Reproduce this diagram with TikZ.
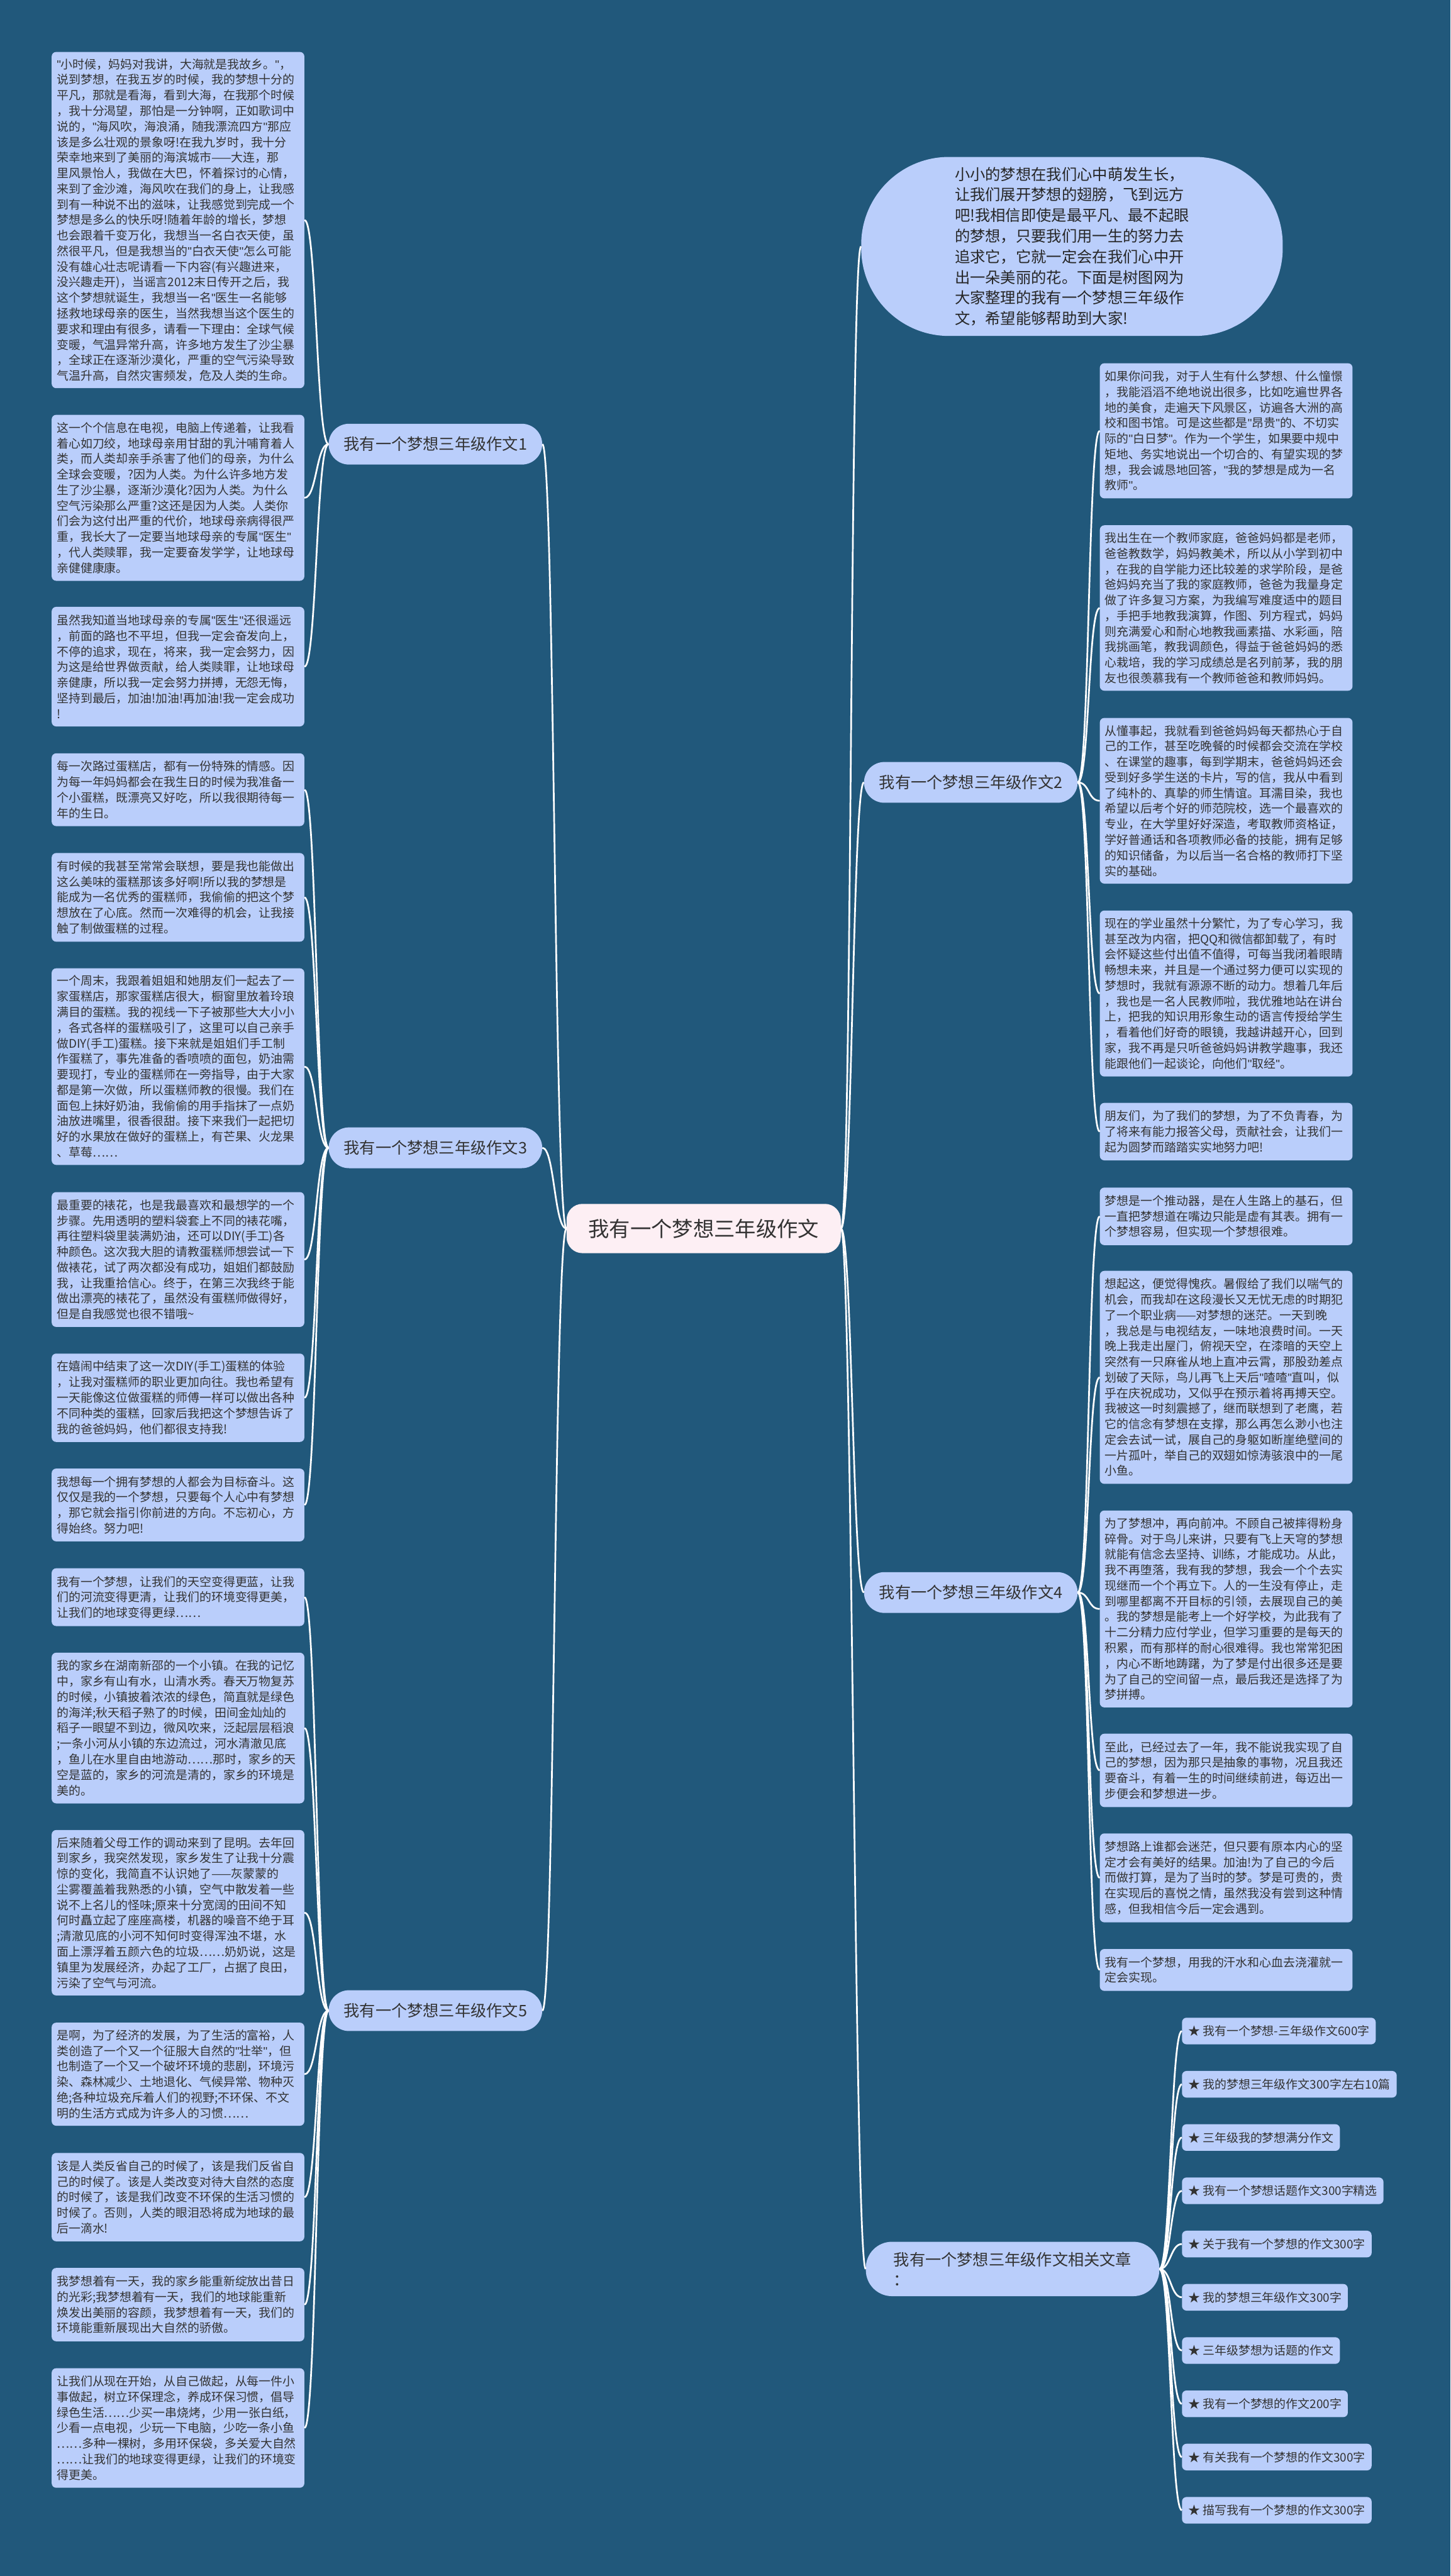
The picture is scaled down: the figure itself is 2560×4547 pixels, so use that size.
\documentclass[tikz,border=0pt]{standalone}
\usepackage{fontspec}
\setmainfont{Noto Sans CJK SC}
\newfontfamily\latf{Liberation Sans}
\newcommand\dq{{\latf\symbol{34}}}
\usetikzlibrary{calc}
\definecolor{bg}{HTML}{21587B}
\definecolor{boxc}{HTML}{BACEFB}
\definecolor{cenc}{HTML}{FDEFF4}
\definecolor{txt}{HTML}{333333}
\begin{document}
\begin{tikzpicture}[x=1pt,y=-1pt,
  leaf/.style={fill=boxc, rounded corners=8pt, text=txt, font=\fontsize{21}{27.5}\selectfont, align=left, text width=428pt, inner xsep=9pt, inner ysep=0pt, anchor=north west},
  branch/.style={fill=boxc, rounded corners=36pt, text=txt, font=\fontsize{28}{32}\selectfont, minimum width=377pt, minimum height=72pt, inner sep=0pt},
  item/.style={fill=boxc, rounded corners=8pt, text=txt, font=\fontsize{21}{25}\selectfont, anchor=west, minimum height=47pt, inner xsep=11pt, inner ysep=0pt},
  conn/.style={draw=white, line width=3pt}
]
\fill[bg] (0,0) rectangle (2560,4547);
\useasboundingbox (0,0) rectangle (2560,4547);

% ---------- centre and branches ----------
\node[fill=cenc, rounded corners=28pt, text=txt, font=\fontsize{37}{40}\selectfont, minimum width=484pt, minimum height=87pt, inner sep=0pt] (cen) at (1242,2168.5) {我有一个梦想三年级作文};

\node[branch] (b1) at (768.5,784) {我有一个梦想三年级作文1};
\node[branch] (b3) at (768.5,2026) {我有一个梦想三年级作文3};
\node[branch] (b5) at (768.5,3549) {我有一个梦想三年级作文5};
\node[branch] (b2) at (1713.5,1381) {我有一个梦想三年级作文2};
\node[branch] (b4) at (1713.5,2811) {我有一个梦想三年级作文4};
\node[fill=boxc, rounded corners=46pt, text=txt, font=\fontsize{28}{36}\selectfont, align=left, minimum width=518pt, minimum height=96pt, inner sep=0pt, anchor=west] (rel) at (1528,4005) {我有一个梦想三年级作文相关文章\\：};

\node[fill=boxc, rounded corners=155pt, text=black!85, font=\fontsize{27}{36.4}\selectfont, align=left, minimum width=744pt, minimum height=316pt, inner sep=0pt] (intro) at (1892,435) {小小的梦想在我们心中萌发生长，\\让我们展开梦想的翅膀，飞到远方\\吧!我相信即使是最平凡、最不起眼\\的梦想，只要我们用一生的努力去\\追求它，它就一定会在我们心中开\\出一朵美丽的花。下面是树图网为\\大家整理的我有一个梦想三年级作\\文，希望能够帮助到大家!};

% ---------- left leaves ----------
\node[leaf, minimum height=593.5pt] (l1a) at (91,91.5) {\dq{}小时候，妈妈对我讲，大海就是我故乡。\dq{}，\\说到梦想，在我五岁的时候，我的梦想十分的\\平凡，那就是看海，看到大海，在我那个时候\\，我十分渴望，那怕是一分钟啊，正如歌词中\\说的，\dq{}海风吹，海浪涌，随我漂流四方\dq{}那应\\该是多么壮观的景象呀!在我九岁时，我十分\\荣幸地来到了美丽的海滨城市——大连，那\\里风景怡人，我做在大巴，怀着探讨的心情，\\来到了金沙滩，海风吹在我们的身上，让我感\\到有一种说不出的滋味，让我感觉到完成一个\\梦想是多么的快乐呀!随着年龄的增长，梦想\\也会跟着千变万化，我想当一名白衣天使，虽\\然很平凡，但是我想当的\dq{}白衣天使\dq{}怎么可能\\没有雄心壮志呢请看一下内容(有兴趣进来，\\没兴趣走开)，当谣言2012末日传开之后，我\\这个梦想就诞生，我想当一名\dq{}医生一名能够\\拯救地球母亲的医生，当然我想当这个医生的\\要求和理由有很多，请看一下理由：全球气候\\变暖，气温异常升高，许多地方发生了沙尘暴\\，全球正在逐渐沙漠化，严重的空气污染导致\\气温升高，自然灾害频发，危及人类的生命。};
\node[leaf, minimum height=293pt] (l1b) at (91,732) {这一个个信息在电视，电脑上传递着，让我看\\着心如刀绞，地球母亲用甘甜的乳汁哺育着人\\类，而人类却亲手杀害了他们的母亲，为什么\\全球会变暖，?因为人类。为什么许多地方发\\生了沙尘暴，逐渐沙漠化?因为人类。为什么\\空气污染那么严重?这还是因为人类。人类你\\们会为这付出严重的代价，地球母亲病得很严\\重，我长大了一定要当地球母亲的专属\dq{}医生\dq{}\\，代人类赎罪，我一定要奋发学学，让地球母\\亲健健康康。};
\node[leaf, minimum height=211pt] (l1c) at (91,1071) {虽然我知道当地球母亲的专属\dq{}医生\dq{}还很遥远\\，前面的路也不平坦，但我一定会奋发向上，\\不停的追求，现在，将来，我一定会努力，因\\为这是给世界做贡献，给人类赎罪，让地球母\\亲健康，所以我一定会努力拼搏，无怨无悔，\\坚持到最后，加油!加油!再加油!我一定会成功\\!};

\node[leaf, minimum height=128.5pt] (l3a) at (91,1329.5) {每一次路过蛋糕店，都有一份特殊的情感。因\\为每一年妈妈都会在我生日的时候为我准备一\\个小蛋糕，既漂亮又好吃，所以我很期待每一\\年的生日。};
\node[leaf, minimum height=156.5pt] (l3b) at (91,1505.5) {有时候的我甚至常常会联想，要是我也能做出\\这么美味的蛋糕那该多好啊!所以我的梦想是\\能成为一名优秀的蛋糕师，我偷偷的把这个梦\\想放在了心底。然而一次难得的机会，让我接\\触了制做蛋糕的过程。};
\node[leaf, minimum height=347pt] (l3c) at (91,1709) {一个周末，我跟着姐姐和她朋友们一起去了一\\家蛋糕店，那家蛋糕店很大，橱窗里放着玲琅\\满目的蛋糕。我的视线一下子被那些大大小小\\，各式各样的蛋糕吸引了，这里可以自己亲手\\做DIY(手工)蛋糕。接下来就是姐姐们手工制\\作蛋糕了，事先准备的香喷喷的面包，奶油需\\要现打，专业的蛋糕师在一旁指导，由于大家\\都是第一次做，所以蛋糕师教的很慢。我们在\\面包上抹好奶油，我偷偷的用手指抹了一点奶\\油放进嘴里，很香很甜。接下来我们一起把切\\好的水果放在做好的蛋糕上，有芒果、火龙果\\、草莓……};
\node[leaf, minimum height=238pt] (l3d) at (91,2104) {最重要的裱花，也是我最喜欢和最想学的一个\\步骤。先用透明的塑料袋套上不同的裱花嘴，\\再往塑料袋里装满奶油，还可以DIY(手工)各\\种颜色。这次我大胆的请教蛋糕师想尝试一下\\做裱花，试了两次都没有成功，姐姐们都鼓励\\我，让我重拾信心。终于，在第三次我终于能\\做出漂亮的裱花了，虽然没有蛋糕师做得好，\\但是自我感觉也很不错哦\textasciitilde};
\node[leaf, minimum height=156pt] (l3e) at (91,2389) {在嬉闹中结束了这一次DIY(手工)蛋糕的体验\\，让我对蛋糕师的职业更加向往。我也希望有\\一天能像这位做蛋糕的师傅一样可以做出各种\\不同种类的蛋糕，回家后我把这个梦想告诉了\\我的爸爸妈妈，他们都很支持我!};
\node[leaf, minimum height=128.5pt] (l3f) at (91,2592) {我想每一个拥有梦想的人都会为目标奋斗。这\\仅仅是我的一个梦想，只要每个人心中有梦想\\，那它就会指引你前进的方向。不忘初心，方\\得始终。努力吧!};

\node[leaf, minimum height=102pt] (l5a) at (91,2768) {我有一个梦想，让我们的天空变得更蓝，让我\\们的河流变得更清，让我们的环境变得更美，\\让我们的地球变得更绿……};
\node[leaf, minimum height=266pt] (l5b) at (91,2917) {我的家乡在湖南新邵的一个小镇。在我的记忆\\中，家乡有山有水，山清水秀。春天万物复苏\\的时候，小镇披着浓浓的绿色，简直就是绿色\\的海洋;秋天稻子熟了的时候，田间金灿灿的\\稻子一眼望不到边，微风吹来，泛起层层稻浪\\;一条小河从小镇的东边流过，河水清澈见底\\，鱼儿在水里自由地游动……那时，家乡的天\\空是蓝的，家乡的河流是清的，家乡的环境是\\美的。};
\node[leaf, minimum height=292pt] (l5c) at (91,3230) {后来随着父母工作的调动来到了昆明。去年回\\到家乡，我突然发现，家乡发生了让我十分震\\惊的变化，我简直不认识她了——灰蒙蒙的\\尘雾覆盖着我熟悉的小镇，空气中散发着一些\\说不上名儿的怪味;原来十分宽阔的田间不知\\何时矗立起了座座高楼，机器的噪音不绝于耳\\;清澈见底的小河不知何时变得浑浊不堪，水\\面上漂浮着五颜六色的垃圾……奶奶说，这是\\镇里为发展经济，办起了工厂，占据了良田，\\污染了空气与河流。};
\node[leaf, minimum height=182pt] (l5d) at (91,3570) {是啊，为了经济的发展，为了生活的富裕，人\\类创造了一个又一个征服大自然的\dq{}壮举\dq{}，但\\也制造了一个又一个破坏环境的悲剧，环境污\\染、森林减少、土地退化、气候异常、物种灭\\绝;各种垃圾充斥着人们的视野;不环保、不文\\明的生活方式成为许多人的习惯……};
\node[leaf, minimum height=156pt] (l5e) at (91,3800) {该是人类反省自己的时候了，该是我们反省自\\己的时候了。该是人类改变对待大自然的态度\\的时候了，该是我们改变不环保的生活习惯的\\时候了。否则，人类的眼泪恐将成为地球的最\\后一滴水!};
\node[leaf, minimum height=129.5pt] (l5f) at (91,4003) {我梦想着有一天，我的家乡能重新绽放出昔日\\的光彩;我梦想着有一天，我们的地球能重新\\焕发出美丽的容颜，我梦想着有一天，我们的\\环境能重新展现出大自然的骄傲。};
\node[leaf, minimum height=211pt] (l5g) at (91,4180) {让我们从现在开始，从自己做起，从每一件小\\事做起，树立环保理念，养成环保习惯，倡导\\绿色生活……少买一串烧烤，少用一张白纸，\\少看一点电视，少玩一下电脑，少吃一条小鱼\\……多种一棵树，多用环保袋，多关爱大自然\\……让我们的地球变得更绿，让我们的环境变\\得更美。};

% ---------- right leaves ----------
\node[leaf, minimum height=238.5pt] (r2a) at (1941,641) {如果你问我，对于人生有什么梦想、什么憧憬\\，我能滔滔不绝地说出很多，比如吃遍世界各\\地的美食，走遍天下风景区，访遍各大洲的高\\校和图书馆。可是这些都是\dq{}昂贵\dq{}的、不切实\\际的\dq{}白日梦\dq{}。作为一个学生，如果要中规中\\矩地、务实地说出一个切合的、有望实现的梦\\想，我会诚恳地回答，\dq{}我的梦想是成为一名\\教师\dq{}。};
\node[leaf, minimum height=292pt] (r2b) at (1941,927) {我出生在一个教师家庭，爸爸妈妈都是老师，\\爸爸教数学，妈妈教美术，所以从小学到初中\\，在我的自学能力还比较差的求学阶段，是爸\\爸妈妈充当了我的家庭教师，爸爸为我量身定\\做了许多复习方案，为我编写难度适中的题目\\，手把手地教我演算，作图、列方程式，妈妈\\则充满爱心和耐心地教我画素描、水彩画，陪\\我挑画笔，教我调颜色，得益于爸爸妈妈的悉\\心栽培，我的学习成绩总是名列前茅，我的朋\\友也很羡慕我有一个教师爸爸和教师妈妈。};
\node[leaf, minimum height=292.5pt] (r2c) at (1941,1267) {从懂事起，我就看到爸爸妈妈每天都热心于自\\己的工作，甚至吃晚餐的时候都会交流在学校\\、在课堂的趣事，每到学期末，爸爸妈妈还会\\受到好多学生送的卡片，写的信，我从中看到\\了纯朴的、真挚的师生情谊。耳濡目染，我也\\希望以后考个好的师范院校，选一个最喜欢的\\专业，在大学里好好深造，考取教师资格证，\\学好普通话和各项教师必备的技能，拥有足够\\的知识储备，为以后当一名合格的教师打下坚\\实的基础。};
\node[leaf, minimum height=293pt] (r2d) at (1941,1607) {现在的学业虽然十分繁忙，为了专心学习，我\\甚至改为内宿，把QQ和微信都卸载了，有时\\会怀疑这些付出值不值得，可每当我闭着眼睛\\畅想未来，并且是一个通过努力便可以实现的\\梦想时，我就有源源不断的动力。想着几年后\\，我也是一名人民教师啦，我优雅地站在讲台\\上，把我的知识用形象生动的语言传授给学生\\，看着他们好奇的眼镜，我越讲越开心，回到\\家，我不再是只听爸爸妈妈讲教学趣事，我还\\能跟他们一起谈论，向他们\dq{}取经\dq{}。};
\node[leaf, minimum height=101.5pt] (r2e) at (1941,1946.5) {朋友们，为了我们的梦想，为了不负青春，为\\了将来有能力报答父母，贡献社会，让我们一\\起为圆梦而踏踏实实地努力吧!};

\node[leaf, minimum height=101.6pt] (r4a) at (1941,2096) {梦想是一个推动器，是在人生路上的基石，但\\一直把梦想道在嘴边只能是虚有其表。拥有一\\个梦想容易，但实现一个梦想很难。};
\node[leaf, minimum height=376pt] (r4b) at (1941,2243) {想起这，便觉得愧疚。暑假给了我们以喘气的\\机会，而我却在这段漫长又无忧无虑的时期犯\\了一个职业病——对梦想的迷茫。一天到晚\\，我总是与电视结友，一味地浪费时间。一天\\晚上我走出屋门，俯视天空，在漆暗的天空上\\突然有一只麻雀从地上直冲云霄，那股劲差点\\划破了天际，鸟儿再飞上天后\dq{}喳喳\dq{}直叫，似\\乎在庆祝成功，又似乎在预示着将再搏天空。\\我被这一时刻震撼了，继而联想到了老鹰，若\\它的信念有梦想在支撑，那么再怎么渺小也注\\定会去试一试，展自己的身躯如断崖绝壁间的\\一片孤叶，举自己的双翅如惊涛骇浪中的一尾\\小鱼。};
\node[leaf, minimum height=347.6pt] (r4c) at (1941,2666) {为了梦想冲，再向前冲。不顾自己被摔得粉身\\碎骨。对于鸟儿来讲，只要有飞上天穹的梦想\\就能有信念去坚持、训练，才能成功。从此，\\我不再堕落，我有我的梦想，我会一个个去实\\现继而一个个再立下。人的一生没有停止，走\\到哪里都离不开目标的引领，去展现自己的美\\。我的梦想是能考上一个好学校，为此我有了\\十二分精力应付学业，但学习重要的是每天的\\积累，而有那样的耐心很难得。我也常常犯困\\，内心不断地踌躇，为了梦是付出很多还是要\\为了自己的空间留一点，最后我还是选择了为\\梦拼搏。};
\node[leaf, minimum height=129.5pt] (r4d) at (1941,3060) {至此，已经过去了一年，我不能说我实现了自\\己的梦想，因为那只是抽象的事物，况且我还\\要奋斗，有着一生的时间继续前进，每迈出一\\步便会和梦想进一步。};
\node[leaf, minimum height=157pt] (r4e) at (1941,3236) {梦想路上谁都会迷茫，但只要有原本内心的坚\\定才会有美好的结果。加油!为了自己的今后\\而做打算，是为了当时的梦。梦是可贵的，贵\\在实现后的喜悦之情，虽然我没有尝到这种情\\感，但我相信今后一定会遇到。};
\node[leaf, minimum height=74pt] (r4f) at (1941,3440) {我有一个梦想，用我的汗水和心血去浇灌就一\\定会实现。};

% ---------- related articles ----------
\node[item] (i1) at (2086,3585) {★ 我有一个梦想-三年级作文600字};
\node[item] (i2) at (2086,3679) {★ 我的梦想三年级作文300字左右10篇};
\node[item] (i3) at (2086,3773) {★ 三年级我的梦想满分作文};
\node[item] (i4) at (2086,3867) {★ 我有一个梦想话题作文300字精选};
\node[item] (i5) at (2086,3961) {★ 关于我有一个梦想的作文300字};
\node[item] (i6) at (2086,4055) {★ 我的梦想三年级作文300字};
\node[item] (i7) at (2086,4149) {★ 三年级梦想为话题的作文};
\node[item] (i8) at (2086,4243) {★ 我有一个梦想的作文200字};
\node[item] (i9) at (2086,4337) {★ 有关我有一个梦想的作文300字};
\node[item] (i10) at (2086,4431) {★ 描写我有一个梦想的作文300字};

% ---------- connectors ----------
\foreach \b in {b1,b3,b5}
  \draw[conn] (cen.west) .. controls ($(cen.west)+(-21.5,0)$) and ($(\b.east)+(21.5,0)$) .. (\b.east);
\foreach \b in {intro,b2,b4,rel}
  \draw[conn] (cen.east) .. controls ($(cen.east)+(20,0)$) and ($(\b.west)+(-20,0)$) .. (\b.west);

\foreach \l in {l1a,l1b,l1c}
  \draw[conn] (b1.west) .. controls ($(b1.west)+(-21.5,0)$) and ($(\l.east)+(21.5,0)$) .. (\l.east);
\foreach \l in {l3a,l3b,l3c,l3d,l3e,l3f}
  \draw[conn] (b3.west) .. controls ($(b3.west)+(-21.5,0)$) and ($(\l.east)+(21.5,0)$) .. (\l.east);
\foreach \l in {l5a,l5b,l5c,l5d,l5e,l5f,l5g}
  \draw[conn] (b5.west) .. controls ($(b5.west)+(-21.5,0)$) and ($(\l.east)+(21.5,0)$) .. (\l.east);
\foreach \l in {r2a,r2b,r2c,r2d,r2e}
  \draw[conn] (b2.east) .. controls ($(b2.east)+(21,0)$) and ($(\l.west)+(-21,0)$) .. (\l.west);
\foreach \l in {r4a,r4b,r4c,r4d,r4e,r4f}
  \draw[conn] (b4.east) .. controls ($(b4.east)+(21,0)$) and ($(\l.west)+(-21,0)$) .. (\l.west);
\foreach \k in {1,...,10}
  \draw[conn] (rel.east) .. controls ($(rel.east)+(20,0)$) and ($(i\k.west)+(-20,0)$) .. (i\k.west);
\end{tikzpicture}
\end{document}
